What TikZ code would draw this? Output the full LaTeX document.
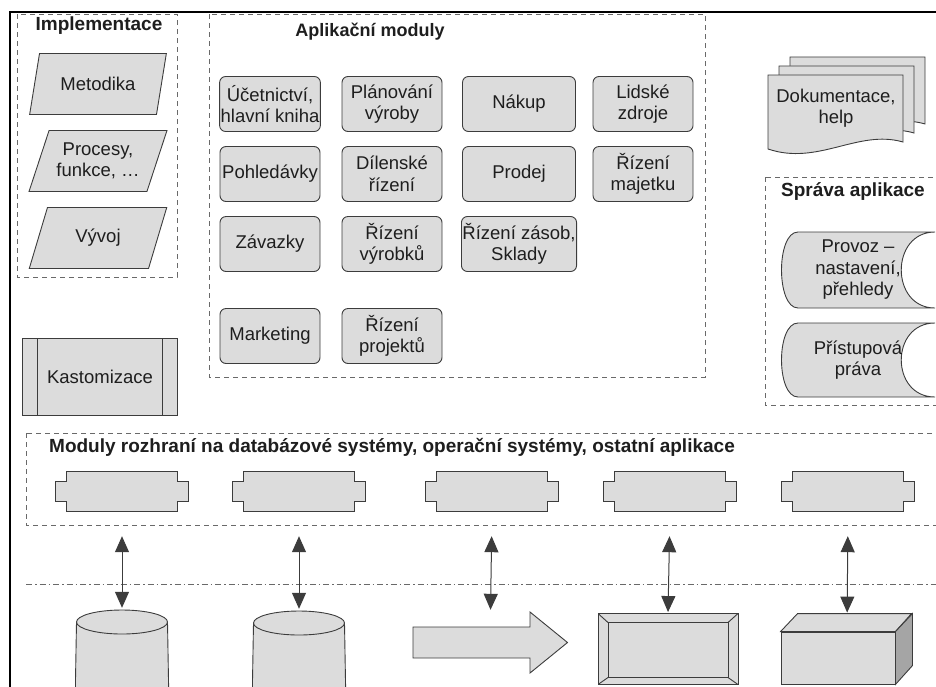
\documentclass[tikz,border=0pt]{standalone}
\usepackage{fontspec}
\setmainfont{Liberation Sans}
\usetikzlibrary{arrows.meta,positioning,shapes.geometric,calc}
\definecolor{schline}{RGB}{60,60,60}
\definecolor{schfill}{RGB}{220,220,220}
\definecolor{schdash}{RGB}{105,105,105}
\definecolor{schtext}{RGB}{30,30,30}
\pgfdeclarelayer{background}
\pgfsetlayers{background,main}

\begin{document}
\begin{tikzpicture}[x=1pt,y=-1pt,
  font=\fontsize{18.5}{21.5}\selectfont,
  lineclr/.style={draw=schline,line width=0.9pt},
  groupbox/.style={draw=schdash,line width=0.9pt,dash pattern=on 5pt off 4pt},
  grouptitle/.style={font=\fontsize{19}{22}\selectfont\bfseries,text=schtext,inner sep=0pt,anchor=base},
  modbox/.style={lineclr,fill=schfill,rounded corners=6pt,minimum width=100pt,minimum height=55pt,align=center,inner sep=1pt,text=schtext},
  implbox/.style={lineclr,fill=schfill,trapezium,trapezium left angle=65,trapezium right angle=115,trapezium stretches=true,minimum width=138pt,minimum height=61pt,align=center,inner sep=0pt,text=schtext},
  custbox/.style={lineclr,fill=schfill,minimum width=155pt,minimum height=77pt,text=schtext,
    path picture={\draw[lineclr] ([xshift=15pt]path picture bounding box.north west) -- ([xshift=15pt]path picture bounding box.south west)
      ([xshift=-15pt]path picture bounding box.north east) -- ([xshift=-15pt]path picture bounding box.south east);}},
  stored/.style={minimum width=156pt,minimum height=78pt,align=center,inner sep=0pt,text=schtext,
    path picture={\draw[lineclr,fill=schfill]
      ([shift={(18pt,-1pt)}]path picture bounding box.north west) -- ([shift={(-1pt,-1pt)}]path picture bounding box.north east)
      .. controls ([shift={(-46pt,-1pt)}]path picture bounding box.north east) and ([shift={(-46pt,1pt)}]path picture bounding box.south east) .. ([shift={(-1pt,1pt)}]path picture bounding box.south east)
      -- ([shift={(18pt,1pt)}]path picture bounding box.south west)
      .. controls ([shift={(-4pt,1pt)}]path picture bounding box.south west) and ([shift={(-4pt,-1pt)}]path picture bounding box.north west) .. ([shift={(18pt,-1pt)}]path picture bounding box.north west) -- cycle;}},
  iface/.style={minimum width=135pt,minimum height=42pt,inner sep=0pt,
    path picture={\draw[lineclr,fill=schfill]
      ([shift={(12pt,-1pt)}]path picture bounding box.north west) -- ([shift={(-12pt,-1pt)}]path picture bounding box.north east)
      -- ([shift={(-12pt,-11pt)}]path picture bounding box.north east) -- ([shift={(-1pt,-11pt)}]path picture bounding box.north east)
      -- ([shift={(-1pt,11pt)}]path picture bounding box.south east) -- ([shift={(-12pt,11pt)}]path picture bounding box.south east)
      -- ([shift={(-12pt,1pt)}]path picture bounding box.south east) -- ([shift={(12pt,1pt)}]path picture bounding box.south west)
      -- ([shift={(12pt,11pt)}]path picture bounding box.south west) -- ([shift={(1pt,11pt)}]path picture bounding box.south west)
      -- ([shift={(1pt,-11pt)}]path picture bounding box.north west) -- ([shift={(12pt,-11pt)}]path picture bounding box.north west) -- cycle;}},
  dbase/.style={minimum width=94pt,minimum height=100pt,inner sep=0pt,
    path picture={\draw[lineclr,fill=schfill] ([shift={(1.5pt,-13pt)}]path picture bounding box.north west) -- (path picture bounding box.south west)
        -- (path picture bounding box.south east) -- ([shift={(-1.5pt,-13pt)}]path picture bounding box.north east);
      \draw[lineclr,fill=schfill] ([yshift=-13pt]path picture bounding box.north) ellipse [x radius=45.5pt,y radius=12pt];}},
  bigarrow/.style={minimum width=157pt,minimum height=63pt,inner sep=0pt,
    path picture={\draw[lineclr,fill=schfill]
      ([shift={(1pt,-16pt)}]path picture bounding box.north west) -- ([shift={(118pt,-16pt)}]path picture bounding box.north west)
      -- ([shift={(118pt,-1pt)}]path picture bounding box.north west) -- ([shift={(-1.5pt,-31.5pt)}]path picture bounding box.north east)
      -- ([shift={(118pt,1pt)}]path picture bounding box.south west) -- ([shift={(118pt,16pt)}]path picture bounding box.south west)
      -- ([shift={(1pt,16pt)}]path picture bounding box.south west) -- cycle;}},
  framebox/.style={lineclr,fill=schfill,minimum width=140pt,minimum height=71pt,inner sep=0pt,
    path picture={\draw[lineclr] ([shift={(10pt,-9pt)}]path picture bounding box.north west) rectangle ([shift={(-10pt,7pt)}]path picture bounding box.south east);
      \draw[lineclr] (path picture bounding box.north west) -- ([shift={(10pt,-9pt)}]path picture bounding box.north west)
        (path picture bounding box.north east) -- ([shift={(-10pt,-9pt)}]path picture bounding box.north east)
        (path picture bounding box.south east) -- ([shift={(-10pt,7pt)}]path picture bounding box.south east)
        (path picture bounding box.south west) -- ([shift={(10pt,7pt)}]path picture bounding box.south west);}},
  boxfront/.style={lineclr,fill=schfill,minimum width=114pt,minimum height=52pt,inner sep=0pt},
  biarrow/.style={{Triangle[width=14pt,length=16pt]}-{Triangle[width=14pt,length=16pt]},draw=schline,line width=1pt,shorten <=24pt},
  dashdot/.style={draw=schdash,line width=0.9pt,dash pattern=on 6pt off 3pt on 1.5pt off 3pt}]
  \useasboundingbox (0,0) rectangle (936,686);
  \clip (0,0) rectangle (936,686);
  % frame of the page
  \draw[line width=1.6pt] (10,690) -- (10,12) -- (940,12);
  % Implementace
  \draw[groupbox] (17,14) rectangle (177,277);
  \node[grouptitle] (impl) at (99,30) {Implementace};
  \node[implbox] (met) at (98,84) {Metodika};
  \node[implbox] (proc) at (98,161) {Procesy,\\funkce, …};
  \node[implbox] (vyv) at (98,238) {Vývoj};
  % Aplikacni moduly
  \draw[groupbox] (209,14) rectangle (705,377);
  \node[grouptitle,font=\fontsize{18}{21}\selectfont\bfseries] (apl) at (370,36) {Aplikační moduly};
  \node[modbox] (ucet) at (270,104) {Účetnictví,\\hlavní kniha};
  \node[modbox] (plan) at (392,104) {Plánování\\výroby};
  \node[modbox,minimum width=113pt] (nakup) at (519,104) {Nákup};
  \node[modbox] (lidi) at (643,104) {Lidské\\zdroje};
  \node[modbox] (pohl) at (270,174) {Pohledávky};
  \node[modbox] (dil) at (392,174) {Dílenské\\řízení};
  \node[modbox,minimum width=113pt] (prod) at (519,174) {Prodej};
  \node[modbox] (maj) at (643,174) {Řízení\\majetku};
  \node[modbox] (zav) at (270,244) {Závazky};
  \node[modbox] (vyr) at (392,244) {Řízení\\výrobků};
  \node[modbox,minimum width=113pt] (zas) at (519,244) {Řízení zásob,\\Sklady};
  \node[modbox] (mark) at (270,336) {Marketing};
  \node[modbox] (proj) at (392,336) {Řízení\\projektů};
  % Dokumentace
  \begin{pgfonlayer}{background}
    \foreach \s in {22,11,0}
      \draw[lineclr,fill=schfill,shift={(\s,-0.82*\s)}] (768,75) -- (903,75) -- (903,142)
        .. controls (858,129) and (818,166) .. (768,149) -- cycle;
  \end{pgfonlayer}
  \node[align=center,text=schtext] (doc) at (836,108) {Dokumentace,\\help};
  % Sprava aplikace
  \draw[groupbox] (765,177) rectangle (945,405);
  \node[grouptitle] (sprava) at (853,196) {Správa aplikace};
  \node[stored] (prov) at (858,270) {Provoz –\\nastavení,\\přehledy};
  \node[stored,minimum height=76pt] (prist) at (858,360) {Přístupová\\práva};
  % Kastomizace
  \node[custbox] (kast) at (100,377) {Kastomizace};
  % Moduly rozhrani
  \draw[groupbox] (26,433) rectangle (945,525);
  \node[grouptitle,anchor=base west] (rozhr) at (49,452) {Moduly rozhraní na databázové systémy, operační systémy, ostatní aplikace};
  \foreach \n/\x in {if1/122,if2/299,if3/492,if4/670,if5/848}
    \node[iface] (\n) at (\x,491) {};
  \draw[dashdot] (26,584) -- (945,584);
  % systems below
  \node[dbase] (db1) at (122,659) {};
  \node[dbase] (db2) at (299,660) {};
  \node[bigarrow] (flow) at (490.5,642.5) {};
  \node[framebox] (frame) at (668,649) {};
  \node[boxfront] (box) at (838,658) {};
  \draw[lineclr,fill=schfill] (box.north west) -- ++(17,-18) -- ++(114,0) -- (box.north east) -- cycle;
  \draw[lineclr,fill=schfill!75!black] (box.north east) -- ++(17,-18) -- ++(0,52) -- (box.south east) -- cycle;
  % connections
  \draw[biarrow,shorten >=1pt] (if1.south) -- (db1.north);
  \draw[biarrow,shorten >=1pt] (if2.south) -- (db2.north);
  \draw[biarrow,shorten >=1pt] (if3.south) -- (flow.north);
  \draw[biarrow,shorten >=1pt] (if4.south) -- (frame.north);
  \draw[biarrow,shorten >=19pt] (if5.south) -- ([xshift=9pt]box.north);
\end{tikzpicture}
\end{document}
